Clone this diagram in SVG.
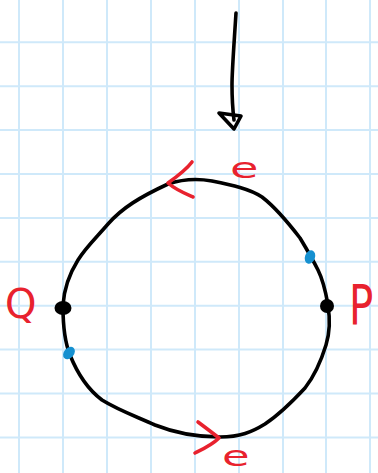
<svg xmlns="http://www.w3.org/2000/svg" width="378" height="473" viewBox="0 0 378 473">
<defs>
<style>
.grid line{stroke:#cfe9fa;stroke-width:2}
.ink{fill:none;stroke:#000;stroke-width:3.6;stroke-linecap:round;stroke-linejoin:round}
.red{fill:none;stroke:#e8222e;stroke-width:3.6;stroke-linecap:round;stroke-linejoin:round}
.lbl{fill:#e8222e;font-family:"DejaVu Sans","Liberation Sans",sans-serif}
.blue{fill:#1590d0}
</style>
</defs>
<rect width="378" height="473" fill="#fff"/>
<g class="grid">
<line x1="19" y1="0" x2="19" y2="473"/><line x1="63" y1="0" x2="63" y2="473"/><line x1="107" y1="0" x2="107" y2="473"/><line x1="151" y1="0" x2="151" y2="473"/><line x1="195" y1="0" x2="195" y2="473"/><line x1="239" y1="0" x2="239" y2="473"/><line x1="283" y1="0" x2="283" y2="473"/><line x1="326" y1="0" x2="326" y2="473"/><line x1="370" y1="0" x2="370" y2="473"/>
<line x1="0" y1="42.3" x2="378" y2="42.3"/><line x1="0" y1="86.2" x2="378" y2="86.2"/><line x1="0" y1="130.1" x2="378" y2="130.1"/><line x1="0" y1="174" x2="378" y2="174"/><line x1="0" y1="217.9" x2="378" y2="217.9"/><line x1="0" y1="261.8" x2="378" y2="261.8"/><line x1="0" y1="305.7" x2="378" y2="305.7"/><line x1="0" y1="349.6" x2="378" y2="349.6"/><line x1="0" y1="393.5" x2="378" y2="393.5"/><line x1="0" y1="437.4" x2="378" y2="437.4"/>
</g>
<g id="connectors">
<path class="ink" d="M236 13 C234 45 232 70 232 85 C232 100 233 112 234 120"/>
<path class="ink" d="M219 113 L241 116 L234 129 Z" stroke-width="4"/>
<path class="ink" d="M63 305 C64 290 68 276 78 260 C86 247 96 238 108 224 C122 208 140 197 168 184 C180 180 195 178 212 181 C232 185 250 189 262 197 C275 207 290 225 300 238 C306 248 312 258 318 270 C324 282 326 294 328 305"/>
<path class="ink" d="M63 307 C63 325 64 340 70 355 C76 370 86 388 102 400 C118 410 135 416 155 425 C175 433 195 437 220 437 C240 437 252 432 265 424 C280 414 292 402 305 388 C316 374 322 358 326 345 C330 332 330 318 328 306"/>
<path class="red" d="M192 162 C186 170 175 178 168 183 C176 190 186 194 193 197"/>
<path class="red" d="M198 422 C206 428 214 434 219 438 C212 445 203 449 195 453"/>
</g>
<g id="node-Q">
<ellipse cx="63" cy="308" rx="8.5" ry="7"/>
<text class="lbl" x="5" y="318" font-size="40">Q</text>
</g>
<g id="node-P">
<ellipse cx="327" cy="306" rx="7" ry="7"/>
<text class="lbl" transform="translate(349 324) scale(0.72 1)" font-size="56">P</text>
</g>
<g id="marks">
<ellipse class="blue" cx="310" cy="257" rx="5" ry="7" transform="rotate(20 310 257)"/>
<ellipse class="blue" cx="69" cy="353" rx="5" ry="7" transform="rotate(40 69 353)"/>
<text class="lbl" transform="translate(230 178) scale(1.65 1)" font-size="28">e</text>
<text class="lbl" transform="translate(222 466) scale(1.6 1)" font-size="28">e</text>
</g>
</svg>
